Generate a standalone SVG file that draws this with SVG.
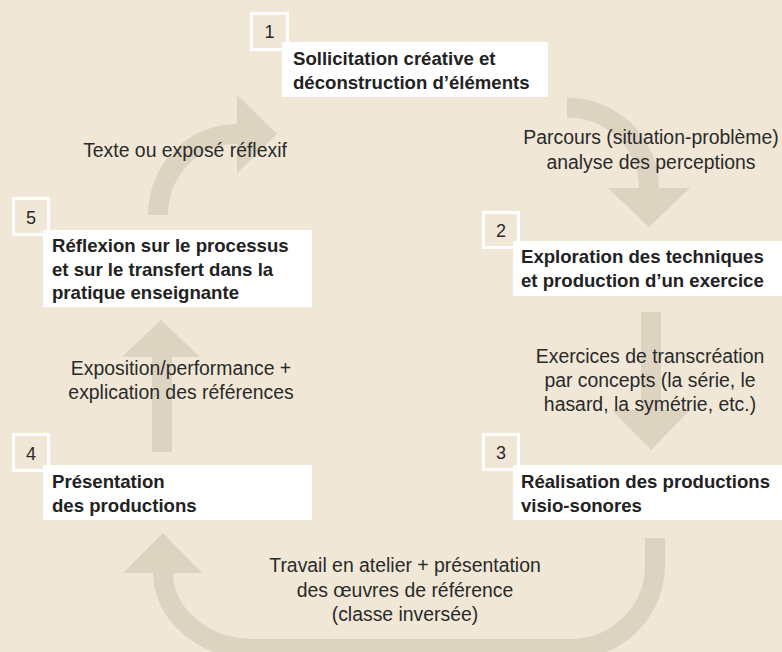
<svg xmlns="http://www.w3.org/2000/svg" width="782" height="652" viewBox="0 0 782 652">
<style>
.bg{fill:#f0e7d6}
.arr{fill:#dcd3c1}
.shaft{fill:none;stroke:#dcd3c1;stroke-width:20}
.num{fill:#f0e7d6;stroke:#ffffff;stroke-width:3}
.lbl{fill:#ffffff}
text{font-family:"Liberation Sans",Arial,sans-serif;fill:#2a2a2a}
.t{font-size:18.6px;font-weight:bold;fill:#222}
.n{font-size:18px;text-anchor:middle}
.e{font-size:19.4px;text-anchor:middle}
</style>
<rect class="bg" x="0" y="0" width="782" height="652"/>
<g id="connectors">
  <g id="c1-2">
    <path class="shaft" d="M567,107.5 A82,81 0 0 1 649,189"/>
    <polygon class="arr" points="608,188 690,188 649,227"/>
  </g>
  <g id="c2-3">
    <rect class="arr" x="641" y="312" width="20" height="99"/>
    <polygon class="arr" points="612,410 690,410 651,450"/>
  </g>
  <g id="c3-4">
    <path class="shaft" d="M655,538 L655,565 A84,84 0 0 1 571,649 L253,649 A90,77 0 0 1 163,572" stroke-width="19"/>
    <polygon class="arr" points="123,573 202,573 163,533"/>
  </g>
  <g id="c4-5">
    <rect class="arr" x="152" y="355" width="20" height="97"/>
    <polygon class="arr" points="122,357 200,357 161,320"/>
  </g>
  <g id="c5-1">
    <path class="shaft" d="M158,215 A79,81 0 0 1 238,134"/>
    <polygon class="arr" points="237,95 237,173 277,134"/>
  </g>
  <g id="edge-labels">
    <text class="e" x="185" y="157">Texte ou exposé réflexif</text>
    <text class="e" x="651" y="144">Parcours (situation-problème)</text>
    <text class="e" x="651" y="169">analyse des perceptions</text>
    <text class="e" x="650" y="363">Exercices de transcréation</text>
    <text class="e" x="650" y="387">par concepts (la série, le</text>
    <text class="e" x="650" y="411">hasard, la symétrie, etc.)</text>
    <text class="e" x="181" y="375">Exposition/performance +</text>
    <text class="e" x="181" y="399">explication des références</text>
    <text class="e" x="405" y="572">Travail en atelier + présentation</text>
    <text class="e" x="405" y="597">des œuvres de référence</text>
    <text class="e" x="405" y="621">(classe inversée)</text>
  </g>
</g>
<g id="node1">
  <rect class="num" x="251.5" y="13.5" width="36" height="36"/>
  <rect class="lbl" x="282" y="42" width="266" height="55"/>
  <text class="n" x="269.5" y="38">1</text>
  <text class="t" x="293" y="65">Sollicitation créative et</text>
  <text class="t" x="293" y="88.5">déconstruction d’éléments</text>
</g>
<g id="node2">
  <rect class="num" x="483.5" y="212.5" width="35" height="35"/>
  <rect class="lbl" x="513" y="241" width="269" height="55"/>
  <text class="n" x="501" y="237">2</text>
  <text class="t" x="521" y="263">Exploration des techniques</text>
  <text class="t" x="521" y="287">et production d’un exercice</text>
</g>
<g id="node3">
  <rect class="num" x="483.5" y="434.5" width="35" height="35"/>
  <rect class="lbl" x="513" y="465" width="269" height="55"/>
  <text class="n" x="501" y="459">3</text>
  <text class="t" x="521" y="488">Réalisation des productions</text>
  <text class="t" x="521" y="512">visio-sonores</text>
</g>
<g id="node4">
  <rect class="num" x="13.5" y="434.5" width="35" height="36"/>
  <rect class="lbl" x="43" y="465" width="269" height="55"/>
  <text class="n" x="31" y="460">4</text>
  <text class="t" x="52" y="488">Présentation</text>
  <text class="t" x="52" y="512">des productions</text>
</g>
<g id="node5">
  <rect class="num" x="13.5" y="198.5" width="35" height="36"/>
  <rect class="lbl" x="43" y="230" width="269" height="77"/>
  <text class="n" x="31" y="224">5</text>
  <text class="t" x="52" y="252">Réflexion sur le processus</text>
  <text class="t" x="52" y="275.5">et sur le transfert dans la</text>
  <text class="t" x="52" y="299">pratique enseignante</text>
</g>
</svg>
